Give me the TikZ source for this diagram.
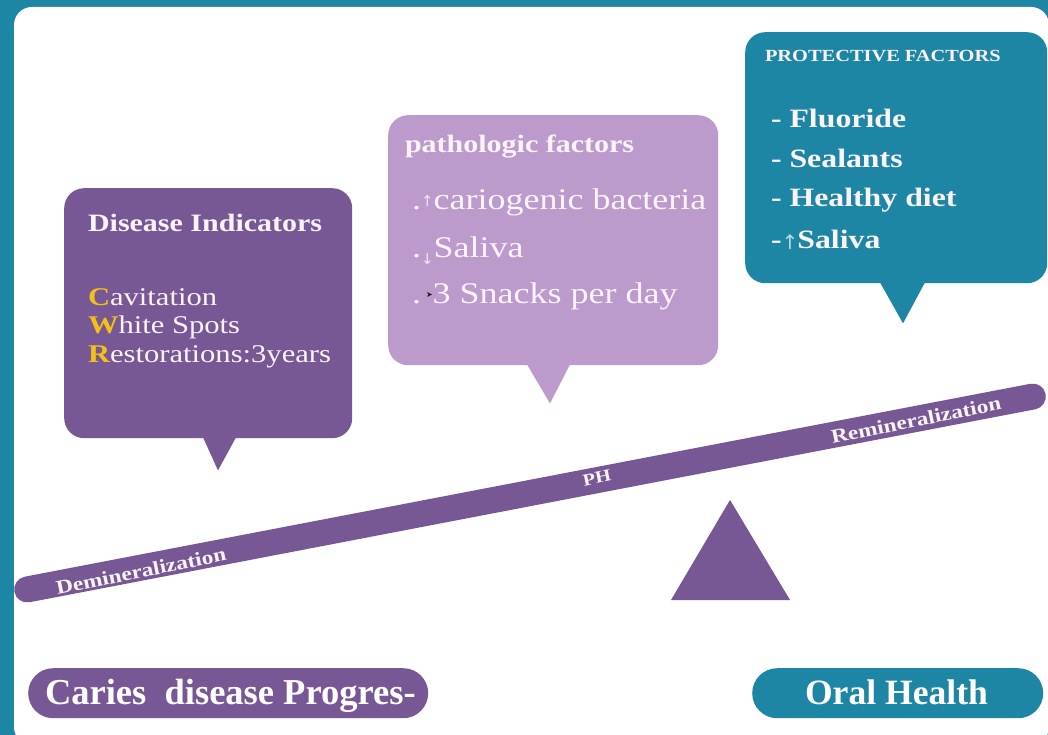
\documentclass[tikz,border=0pt]{standalone}
\usepackage{fontspec}
\setmainfont{Liberation Serif}
\newfontfamily\wide[FakeStretch=1.2]{Liberation Serif}
\newfontfamily\arrowfont{DejaVu Sans}
\definecolor{purp}{RGB}{119,88,148}
\definecolor{lpurp}{RGB}{188,155,204}
\definecolor{tealc}{RGB}{30,134,165}
\definecolor{goldc}{RGB}{243,192,22}
\definecolor{txt}{RGB}{250,243,250}
\definecolor{darkarr}{RGB}{40,20,50}
\tikzset{
  txtnode/.style={anchor=base west, inner sep=0pt, outer sep=0pt, text=txt},
  boxnode/.style={anchor=north west, rounded corners=20pt, inner sep=0pt, draw=none},
  pill/.style={anchor=north west, rounded corners=25pt, inner sep=0pt, draw=none},
}
\begin{document}
\begin{tikzpicture}[x=1pt,y=-1pt]
\useasboundingbox (0,0) rectangle (1048,735);
% frame
\fill[tealc] (0,0) rectangle (1048,735);
\fill[white, rounded corners=18pt] (14,7) rectangle (1049,745);

% Disease indicators callout
\node[boxnode, fill=purp, minimum width=288pt, minimum height=250pt] (di) at (64,188) {};
\fill[purp] ([xshift=139pt,yshift=1pt]di.south west) -- ([xshift=172pt,yshift=1pt]di.south west) -- ([xshift=154pt,yshift=-32pt]di.south west) -- cycle;
\node[txtnode, font=\wide\bfseries\fontsize{25}{29}\selectfont] (dit) at (88,232) {Disease Indicators};
\node[txtnode, font=\wide\fontsize{25.5}{29}\selectfont] (dc) at (88,305) {{\bfseries\color{goldc}C}avitation};
\node[txtnode, font=\wide\fontsize{25.5}{29}\selectfont] (dw) at (88,333) {{\bfseries\color{goldc}W}hite Spots};
\node[txtnode, font=\wide\fontsize{25.5}{29}\selectfont] (dr) at (88,362) {{\bfseries\color{goldc}R}estorations:3years};

% Pathologic factors callout
\node[boxnode, fill=lpurp, minimum width=330pt, minimum height=250pt] (pf) at (388,115) {};
\fill[lpurp] ([xshift=139pt,yshift=1pt]pf.south west) -- ([xshift=182pt,yshift=1pt]pf.south west) -- ([xshift=162pt,yshift=-38pt]pf.south west) -- cycle;
\node[txtnode, font=\wide\bfseries\fontsize{25}{29}\selectfont] (pft) at (405,153) {pathologic factors};
\node[txtnode, font=\wide\fontsize{30}{34}\selectfont] (p1) at (412,210) {.\raisebox{3pt}{\arrowfont\fontsize{15}{15}\selectfont\color{white!75!lpurp}↑}\kern0pt cariogenic bacteria};
\node[txtnode, font=\wide\fontsize{30}{34}\selectfont] (p2) at (412,257) {.\raisebox{-7pt}{\arrowfont\fontsize{15}{15}\selectfont\color{white!75!lpurp}↓}\kern0pt Saliva};
\node[txtnode, font=\wide\fontsize{30}{34}\selectfont] (p3) at (412,303) {.\kern5pt\raisebox{6pt}{\arrowfont\fontsize{8}{8}\selectfont\color{darkarr}➤}\kern0pt 3 Snacks per day};

% Protective factors callout
\node[boxnode, fill=tealc, minimum width=302pt, minimum height=251pt] (prf) at (745,32) {};
\fill[tealc] ([xshift=135pt,yshift=1pt]prf.south west) -- ([xshift=180pt,yshift=1pt]prf.south west) -- ([xshift=158pt,yshift=-40pt]prf.south west) -- cycle;
\node[txtnode, font=\wide\bfseries\fontsize{17}{20}\selectfont] (prt) at (765,62) {PROTECTIVE FACTORS};
\node[txtnode, font=\wide\bfseries\fontsize{26.5}{30}\selectfont] (r1) at (771,128) {- Fluoride};
\node[txtnode, font=\wide\bfseries\fontsize{26.5}{30}\selectfont] (r2) at (771,168) {- Sealants};
\node[txtnode, font=\wide\bfseries\fontsize{26.5}{30}\selectfont] (r3) at (771,207) {- Healthy diet};
\node[txtnode, font=\wide\bfseries\fontsize{26.5}{30}\selectfont] (r4) at (771,248) {-\raisebox{-1pt}{\arrowfont\mdseries\fontsize{20}{20}\selectfont\color{white!70!tealc}↑}\kern-1pt Saliva};

% Beam and fulcrum
\node[fill=purp, rounded corners=13pt, minimum width=1050pt, minimum height=26pt, inner sep=0pt, rotate=10.86] (beam) at (530,493) {};
\node[text=txt, inner sep=0pt, rotate=11.5, font=\wide\bfseries\fontsize{19.5}{22}\selectfont] (dem) at (141,571) {Demineralization};
\node[text=txt, inner sep=0pt, rotate=11.5, font=\wide\bfseries\fontsize{17}{20}\selectfont] (ph) at (597,478) {PH};
\node[text=txt, inner sep=0pt, rotate=11.5, font=\wide\bfseries\fontsize{19.5}{22}\selectfont] (rem) at (916,420) {Remineralization};
\fill[purp] (671,600) -- (790,600) -- (730,500) -- cycle;

% Bottom labels
\node[pill, fill=purp, minimum width=400pt, minimum height=50pt] (cdp) at (28,668) {};
\node[txtnode, font=\bfseries\fontsize{36.5}{40}\selectfont, text=white] (cdpt) at (45,704) {Caries\ \ disease Progres-};
\node[pill, fill=tealc, minimum width=291pt, minimum height=50pt] (oh) at (752,668) {};
\node[txtnode, font=\bfseries\fontsize{35.6}{40}\selectfont, text=white] (oht) at (805,704) {Oral Health};
\end{tikzpicture}
\end{document}
